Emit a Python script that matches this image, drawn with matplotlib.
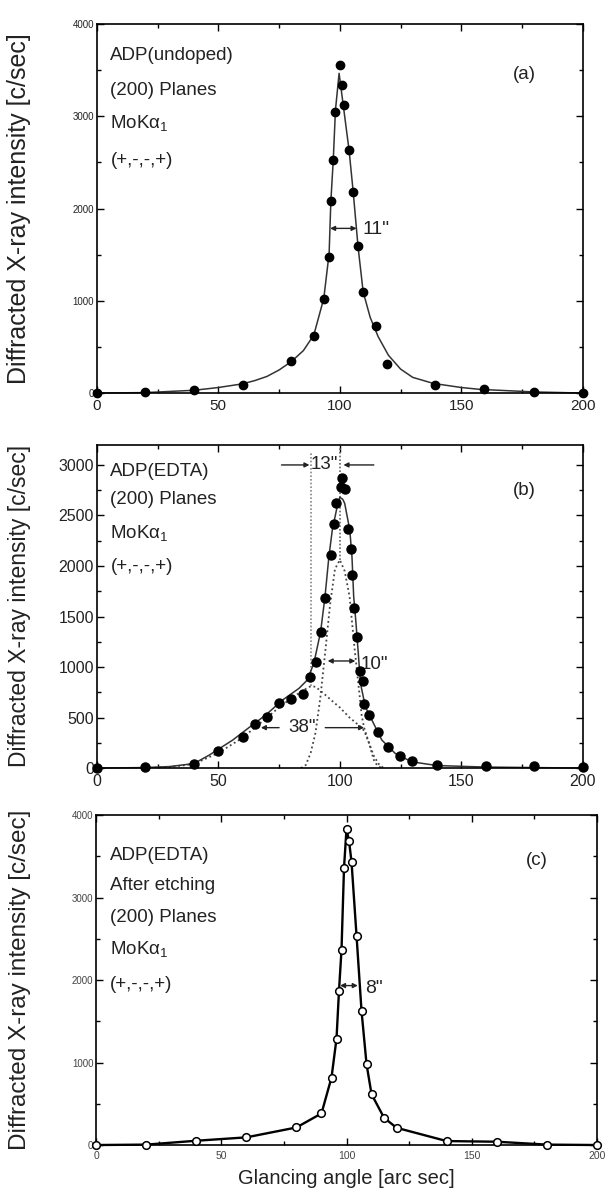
import numpy as np
import matplotlib
matplotlib.use("Agg")
from matplotlib import pyplot as plt
from matplotlib.ticker import MultipleLocator

plt.rcParams['font.family'] = ['Liberation Sans', 'DejaVu Sans']

# (a) ADP undoped - measured points
a_x = [0, 20, 40, 60, 80, 89.3, 93.4, 95.5, 96.3, 97.3, 98.2, 99.9, 100.8, 101.8,
       103.7, 105.5, 107.5, 109.6, 114.7, 119.5, 139, 159.4, 180, 200]
a_y = [0, 10, 36, 83, 347, 618, 1016, 1478, 2081, 2526, 3050, 3556, 3339, 3122,
       2634, 2182, 1593, 1098, 726, 314, 87, 40, 11, 0]
# (a) fitted curve
a_fit_x = [0, 20, 40, 50, 60, 65, 70, 75, 80, 85, 89.3, 93.4, 95.6, 96.3, 97.3, 98.2,
           99.7, 101.4, 103.8, 105.5, 107.5, 109.6, 112.5, 115.8, 120, 125, 130,
           138.4, 150, 157.6, 180, 200]
a_fit_y = [0, 5, 30, 60, 100, 135, 180, 250, 340, 460, 629, 1026, 1514, 2074, 2526,
           3068, 3466, 3122, 2634, 2182, 1586, 1098, 820, 610, 410, 260, 170,
           105, 60, 40, 12, 0]

# (b) ADP(EDTA) - measured points
b_x = [0, 20, 40, 50, 60, 65, 70, 75, 80, 85, 87.7, 90, 92.1, 93.9, 96.2, 97.8,
       98.5, 100.3, 101, 102, 103.4, 104.4, 105, 106, 107.1, 108.1, 109.4, 109.8,
       112.2, 115.6, 120, 124.9, 129.6, 140, 160, 180, 200]
b_y = [0, 10, 40, 168, 310, 436, 508, 647, 680, 733, 898, 1052, 1350, 1680, 2109,
       2416, 2621, 2785, 2868, 2760, 2363, 2165, 1911, 1581, 1300, 963, 865, 634,
       522, 359, 211, 119, 72, 30, 25, 20, 10]
# (b) total fit
b_fit_x = [0, 20, 30, 40, 46.3, 55.9, 64, 69.5, 76.4, 83.2, 86.6, 89.3, 92.1, 93.9,
           95.5, 96.9, 98.9, 100, 101.2, 102, 104.1, 105, 105.7, 106.6, 107.5, 108.5,
           110.5, 113.2, 117.3, 122.8, 129.6, 140, 160, 200]
b_fit_y = [0, 5, 15, 45, 129, 277, 426, 525, 673, 789, 871, 1036, 1350, 1696,
           2092, 2356, 2587, 2680, 2660, 2620, 2356, 2092, 1700, 1450, 1168, 839,
           607, 475, 277, 145, 62, 25, 10, 0]
# (b) narrow component
b_nar_x = [84, 86, 88, 90, 92, 94, 96, 98, 100, 102, 104, 106, 108, 109, 110, 112, 114, 115, 117]
b_nar_y = [0, 30, 150, 350, 700, 1150, 1620, 1970, 2060, 1950, 1700, 1200, 750, 520, 400, 247, 80, 40, 0]
# (b) broad component
b_brd_x = [20, 30, 40, 50, 60, 65, 70, 75, 80, 85, 88, 90, 94, 98, 100, 104, 108, 110, 112, 114, 116, 118]
b_brd_y = [0, 10, 40, 150, 300, 400, 500, 600, 690, 770, 810, 805, 725, 640, 600, 500, 420, 370, 250, 120, 40, 0]

# (c) ADP(EDTA) after etching
c_x = [0, 20, 40, 60, 80, 90, 94, 96, 97, 98, 99, 100, 101, 102, 104, 106, 108,
       110, 115, 120, 140, 160, 180, 200]
c_y = [0, 5, 52, 93, 213, 383, 818, 1289, 1873, 2369, 3363, 3835, 3686, 3432,
       2538, 1623, 979, 616, 330, 209, 48, 40, 5, 0]

ylabel = 'Diffracted X-ray intensity [c/sec]'

fig = plt.figure(figsize=(6.09, 12.02), dpi=100)
ax_a = fig.add_axes([0.159, 0.673, 0.798, 0.307])
ax_b = fig.add_axes([0.159, 0.361, 0.798, 0.269])
ax_c = fig.add_axes([0.158, 0.0474, 0.822, 0.2745])


def style(ax, ymax, ymaj, ymin, ysize, xsize, tcol, lsize):
    ax.set_xlim(0, 200)
    ax.set_ylim(0, ymax)
    ax.xaxis.set_major_locator(MultipleLocator(50))
    ax.xaxis.set_minor_locator(MultipleLocator(25))
    ax.yaxis.set_major_locator(MultipleLocator(ymaj))
    ax.yaxis.set_minor_locator(MultipleLocator(ymin))
    ax.tick_params(which='both', direction='in', top=True, right=True, width=1)
    ax.tick_params(which='major', length=5)
    ax.tick_params(which='minor', length=3)
    ax.tick_params(axis='y', labelsize=ysize, labelcolor=tcol, pad=2)
    ax.tick_params(axis='x', labelsize=xsize, labelcolor=tcol, pad=4)
    for s in ax.spines.values():
        s.set_linewidth(1.2)
    ax.set_ylabel(ylabel, fontsize=lsize, color='#222222')
    # right edge of the rotated label about 31 px from the figure's left edge
    bb = ax.get_position()
    ax.yaxis.set_label_coords((31 / 609 - bb.x0) / bb.width, 0.5)


def arrow(ax, x0, x1, y, style='<|-|>'):
    ax.annotate('', xy=(x1, y), xytext=(x0, y),
                arrowprops=dict(arrowstyle=style, color='#222222', lw=1,
                                mutation_scale=7, shrinkA=0, shrinkB=0))


def labels(ax, lines, ys, tag, tag_y, size=13.5):
    for t, y in zip(lines, ys):
        ax.text(0.028, y, t, transform=ax.transAxes, fontsize=size,
                va='center', ha='left', color='#222222')
    ax.text(0.88, tag_y, tag, transform=ax.transAxes, fontsize=size,
            va='center', ha='center', color='#222222')


moka = r'MoK$\mathregular{\alpha_1}$'

# ---- (a)
style(ax_a, 4000, 1000, 500, 7, 11, '#222222', 18)
ax_a.plot(a_fit_x, a_fit_y, color='#333333', lw=1.1, clip_on=False)
ax_a.plot(a_x, a_y, 'o', color='black', ms=6, clip_on=False, zorder=5)
arrow(ax_a, 96, 106.9, 1785)
ax_a.text(109.5, 1770, '11"', fontsize=14, va='center', ha='left', color='#222222')
labels(ax_a, ['ADP(undoped)', '(200) Planes', moka, '(+,-,-,+)'],
       [0.916, 0.821, 0.731, 0.631], '(a)', 0.862)

# ---- (b)
style(ax_b, 3200, 500, 250, 11.5, 11.5, '#222222', 16.5)
ax_b.plot(b_brd_x, b_brd_y, color='#444444', lw=1.3, ls=(0, (1, 1.6)))
ax_b.plot(b_nar_x, b_nar_y, color='#444444', lw=1.3, ls=(0, (1, 1.6)))
ax_b.plot([88, 88], [810, 3120], color='#888888', lw=1.2, ls=(0, (1, 1.2)))
ax_b.plot([100, 100], [2060, 3180], color='#666666', lw=1.2, ls=(0, (1, 1.2)))
ax_b.plot(b_fit_x, b_fit_y, color='#333333', lw=1.1, clip_on=False)
ax_b.plot(b_x, b_y, 'o', color='black', ms=6.5, clip_on=False, zorder=5)
arrow(ax_b, 76, 87.5, 3000, '-|>')
arrow(ax_b, 114, 101.5, 3000, '-|>')
ax_b.text(93.8, 3000, '13"', fontsize=13.5, va='center', ha='center', color='#222222')
arrow(ax_b, 95, 106.4, 1060)
ax_b.text(108.5, 1030, '10"', fontsize=13.5, va='center', ha='left', color='#222222')
arrow(ax_b, 75, 67.5, 400, '-|>')
arrow(ax_b, 94, 110, 400, '-|>')
ax_b.text(84.5, 400, '38"', fontsize=13.5, va='center', ha='center', color='#222222')
labels(ax_b, ['ADP(EDTA)', '(200) Planes', moka, '(+,-,-,+)'],
       [0.917, 0.830, 0.727, 0.623], '(b)', 0.86)

# ---- (c)
style(ax_c, 4000, 1000, 500, 7, 7.5, '#444444', 17.5)
ax_c.plot(c_x, c_y, '-o', color='black', lw=1.7, ms=5.5, mfc='white', mew=1.1,
          clip_on=False, zorder=5)
arrow(ax_c, 97.4, 104.5, 1933)
ax_c.text(107.5, 1893, '8"', fontsize=14, va='center', ha='left', color='#222222')
labels(ax_c, ['ADP(EDTA)', 'After etching', '(200) Planes', moka, '(+,-,-,+)'],
       [0.876, 0.788, 0.690, 0.594, 0.488], '(c)', 0.861)
ax_c.set_xlabel('Glancing angle [arc sec]', fontsize=14.5, labelpad=6, color='#222222')

fig.savefig('out.png', dpi=100)
